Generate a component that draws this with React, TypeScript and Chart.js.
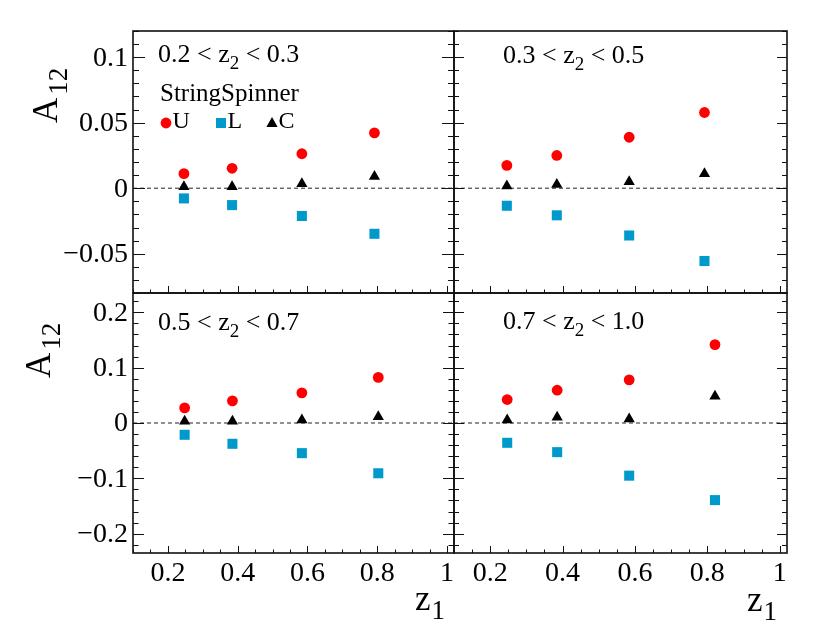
import React, { useEffect, useRef } from 'react';
import { Chart, registerables } from 'chart.js';

Chart.register(...registerables);

// mean z1 of each bin, per z2 bin
const z1Bin1 = [0.246, 0.384, 0.584, 0.792];
const z1Bin2 = [0.246, 0.384, 0.584, 0.792];
const z1Bin3 = [0.248, 0.385, 0.584, 0.803];
const z1Bin4 = [0.247, 0.385, 0.584, 0.821];

// A12 for U, L and C
const uBin1 = [0.0111, 0.0152, 0.0263, 0.0422];
const lBin1 = [-0.0078, -0.0129, -0.0212, -0.0348];
const cBin1 = [0.0012, 0.0012, 0.0034, 0.009];

const uBin2 = [0.0174, 0.025, 0.0389, 0.0578];
const lBin2 = [-0.0134, -0.0207, -0.0361, -0.0556];
const cBin2 = [0.0017, 0.0029, 0.0049, 0.011];

const uBin3 = [0.0273, 0.04, 0.0545, 0.0824];
const lBin3 = [-0.0213, -0.0376, -0.0545, -0.0909];
const cBin3 = [0.003, 0.003, 0.0054, 0.0115];

const uBin4 = [0.0424, 0.0593, 0.078, 0.1418];
const lBin4 = [-0.0358, -0.0527, -0.0952, -0.1394];
const cBin4 = [0.0054, 0.0103, 0.0073, 0.0485];

const z2Low = ['0.2', '0.3', '0.5', '0.7'];
const z2High = ['0.3', '0.5', '0.7', '1.0'];

const seriesNames = ['U', 'L', 'C'];
const legendTitle = 'StringSpinner';

const xTickValues = [0.2, 0.4, 0.6, 0.8, 1];
const xTickText = ['0.2', '0.4', '0.6', '0.8', '1'];
const yTickValuesTop = [-0.05, 0, 0.05, 0.1];
const yTickTextTop = ['\u22120.05', '0', '0.05', '0.1'];
const yTickValuesBottom = [-0.2, -0.1, 0, 0.1, 0.2];
const yTickTextBottom = ['\u22120.2', '\u22120.1', '0', '0.1', '0.2'];

const FONT = '"Liberation Serif", "DejaVu Serif", serif';
const RED = '#ff0000';
const BLUE = '#0099cc';
const BLACK = '#000000';

interface PanelSpec {
  z1: number[];
  u: number[];
  l: number[];
  c: number[];
  lo: string;
  hi: string;
  frame: { left: number; top: number; right: number; bottom: number };
  yMin: number;
  yMax: number;
  yMajor: number;
  yMinor: number;
  yTicks: number[];
  yText: string[];
  showY: boolean;
  showX: boolean;
  yTickLen: number;
  label: { x: number; y: number };
  yTitle?: { x: number; y: number };
  xTitle?: { x: number; y: number };
  legend?: boolean;
}

const top = { yMin: -0.08, yMax: 0.12, yMajor: 0.05, yMinor: 0.01, yTicks: yTickValuesTop, yText: yTickTextTop };
const bottom = { yMin: -0.235, yMax: 0.235, yMajor: 0.1, yMinor: 0.02, yTicks: yTickValuesBottom, yText: yTickTextBottom };

const panels: PanelSpec[] = [
  {
    z1: z1Bin1, u: uBin1, l: lBin1, c: cBin1, lo: z2Low[0], hi: z2High[0],
    frame: { left: 133, top: 31, right: 454, bottom: 293 }, ...top,
    showY: true, showX: false, yTickLen: 12,
    label: { x: 158, y: 62 }, yTitle: { x: 57, y: 123 }, legend: true,
  },
  {
    z1: z1Bin2, u: uBin2, l: lBin2, c: cBin2, lo: z2Low[1], hi: z2High[1],
    frame: { left: 454, top: 31, right: 787, bottom: 293 }, ...top,
    showY: false, showX: false, yTickLen: 10,
    label: { x: 503, y: 63 },
  },
  {
    z1: z1Bin3, u: uBin3, l: lBin3, c: cBin3, lo: z2Low[2], hi: z2High[2],
    frame: { left: 133, top: 293, right: 454, bottom: 553 }, ...bottom,
    showY: true, showX: true, yTickLen: 11,
    label: { x: 158, y: 330 }, yTitle: { x: 50, y: 378 }, xTitle: { x: 415, y: 610 },
  },
  {
    z1: z1Bin4, u: uBin4, l: lBin4, c: cBin4, lo: z2Low[3], hi: z2High[3],
    frame: { left: 454, top: 293, right: 787, bottom: 553 }, ...bottom,
    showY: false, showX: true, yTickLen: 10,
    label: { x: 503, y: 329 }, xTitle: { x: 747, y: 611 },
  },
];

function drawMarker(ctx: CanvasRenderingContext2D, style: string, x: number, y: number, color: string) {
  ctx.fillStyle = color;
  ctx.beginPath();
  if (style === 'circle') {
    ctx.arc(x, y, 5.4, 0, Math.PI * 2);
  } else if (style === 'rect') {
    ctx.rect(x - 5, y - 5, 10, 10);
  } else {
    ctx.moveTo(x, y - 6);
    ctx.lineTo(x + 5.6, y + 4);
    ctx.lineTo(x - 5.6, y + 4);
    ctx.closePath();
  }
  ctx.fill();
}

const makePlugin = (p: PanelSpec) => ({
  id: 'rootFrame',
  beforeDatasetsDraw(chart: Chart) {
    const { ctx, chartArea: a } = chart;
    const y0 = chart.scales.y.getPixelForValue(0);
    ctx.save();
    ctx.strokeStyle = '#222';
    ctx.lineWidth = 1;
    ctx.setLineDash([4, 3]);
    ctx.beginPath();
    ctx.moveTo(a.left, y0);
    ctx.lineTo(a.right, y0);
    ctx.stroke();
    ctx.restore();
  },
  afterDatasetsDraw(chart: Chart) {
    const { ctx, chartArea: a } = chart;
    const xs = chart.scales.x;
    const ys = chart.scales.y;
    ctx.save();
    ctx.strokeStyle = '#111';
    ctx.lineWidth = 1.6;
    ctx.strokeRect(a.left, a.top, a.right - a.left, a.bottom - a.top);

    // y ticks on left and right edges
    ctx.lineWidth = 1;
    const k0 = Math.ceil(p.yMin / p.yMinor - 1e-6);
    const k1 = Math.floor(p.yMax / p.yMinor + 1e-6);
    for (let k = k0; k <= k1; k++) {
      const v = k * p.yMinor;
      const r = v / p.yMajor;
      const major = Math.abs(r - Math.round(r)) < 1e-6;
      const len = major ? p.yTickLen : p.yTickLen / 2;
      const py = Math.round(ys.getPixelForValue(v)) + 0.5;
      ctx.beginPath();
      ctx.moveTo(a.left, py);
      ctx.lineTo(a.left + len, py);
      ctx.moveTo(a.right, py);
      ctx.lineTo(a.right - len, py);
      ctx.stroke();
    }
    // x ticks on bottom edge
    for (let k = Math.ceil(0.1 / 0.05 - 1e-6); k <= Math.floor(1.02 / 0.05 + 1e-6); k++) {
      const v = k * 0.05;
      const major = k % 4 === 0;
      const len = major ? 7 : 3.5;
      const px = Math.round(xs.getPixelForValue(v)) + 0.5;
      ctx.beginPath();
      ctx.moveTo(px, a.bottom);
      ctx.lineTo(px, a.bottom - len);
      ctx.stroke();
    }

    ctx.fillStyle = '#000';
    ctx.font = `28px ${FONT}`;
    if (p.showY) {
      ctx.textAlign = 'right';
      ctx.textBaseline = 'middle';
      p.yTicks.forEach((v, i) => ctx.fillText(p.yText[i], a.left - 5, ys.getPixelForValue(v) + 1));
    }
    if (p.showX) {
      ctx.textAlign = 'center';
      ctx.textBaseline = 'alphabetic';
      xTickValues.forEach((v, i) => ctx.fillText(xTickText[i], xs.getPixelForValue(v), a.bottom + 28));
    }

    // z2 bin label
    ctx.textAlign = 'left';
    ctx.textBaseline = 'alphabetic';
    ctx.font = `26px ${FONT}`;
    let tx = p.label.x;
    const part1 = `${p.lo} < z`;
    ctx.fillText(part1, tx, p.label.y);
    tx += ctx.measureText(part1).width;
    ctx.font = `19px ${FONT}`;
    ctx.fillText('2', tx, p.label.y + 7);
    tx += ctx.measureText('2').width;
    ctx.font = `26px ${FONT}`;
    ctx.fillText(` < ${p.hi}`, tx, p.label.y);

    if (p.yTitle) {
      ctx.save();
      ctx.translate(p.yTitle.x, p.yTitle.y);
      ctx.rotate(-Math.PI / 2);
      ctx.font = `35px ${FONT}`;
      ctx.fillText('A', 0, 0);
      const w = ctx.measureText('A').width;
      ctx.font = `27px ${FONT}`;
      ctx.fillText('12', w + 3, 10);
      ctx.restore();
    }
    if (p.xTitle) {
      ctx.font = `35px ${FONT}`;
      ctx.fillText('z', p.xTitle.x, p.xTitle.y);
      const w = ctx.measureText('z').width;
      ctx.font = `27px ${FONT}`;
      ctx.fillText('1', p.xTitle.x + w + 1, p.xTitle.y + 9);
    }

    if (p.legend) {
      ctx.font = `25px ${FONT}`;
      ctx.fillText(legendTitle, 160, 101);
      const styles = ['circle', 'rect', 'triangle'];
      const colors = [RED, BLUE, BLACK];
      const xs0 = [166, 221, 272];
      ctx.font = `24px ${FONT}`;
      seriesNames.forEach((name, i) => {
        drawMarker(ctx, styles[i], xs0[i], 123, colors[i]);
        ctx.fillStyle = '#000';
        ctx.fillText(name, xs0[i] + 6.5, 128);
      });
    }
    ctx.restore();
  },
});

const Panel: React.FC<{ spec: PanelSpec }> = ({ spec }) => {
  const chartRef = useRef<HTMLCanvasElement>(null);

  useEffect(() => {
    let chartInstance: Chart | undefined;
    let cancelled = false;
    const build = () => {
      const ctx = chartRef.current?.getContext('2d');
      if (!ctx || cancelled) return;
      const pts = (vals: number[]) => vals.map((v, i) => ({ x: spec.z1[i], y: v }));
      chartInstance = new Chart(ctx, {
        type: 'scatter',
        data: {
          datasets: [
            { label: seriesNames[0], data: pts(spec.u), pointStyle: 'circle', pointRadius: 5.4, backgroundColor: RED, borderColor: RED, borderWidth: 0 },
            { label: seriesNames[1], data: pts(spec.l), pointStyle: 'rect', pointRadius: 7.1, backgroundColor: BLUE, borderColor: BLUE, borderWidth: 0 },
            { label: seriesNames[2], data: pts(spec.c), pointStyle: 'triangle', pointRadius: 6.5, backgroundColor: BLACK, borderColor: BLACK, borderWidth: 0 },
          ],
        },
        options: {
          responsive: false,
          animation: false,
          devicePixelRatio: 1,
          layout: {
            padding: {
              left: spec.frame.left,
              top: spec.frame.top,
              right: 830 - spec.frame.right,
              bottom: 627 - spec.frame.bottom,
            },
          },
          plugins: {
            legend: { display: false },
            tooltip: { enabled: false },
          },
          scales: {
            x: { type: 'linear', min: 0.1, max: 1.02, display: false },
            y: { type: 'linear', min: spec.yMin, max: spec.yMax, display: false },
          },
        },
        plugins: [makePlugin(spec)],
      });
    };
    const fonts = (document as any).fonts;
    if (fonts && fonts.load) {
      Promise.all([fonts.load(`28px ${FONT}`), fonts.load(`35px ${FONT}`)]).then(build, build);
    } else {
      build();
    }
    return () => {
      cancelled = true;
      if (chartInstance) {
        chartInstance.destroy();
      }
    };
  }, [spec]);

  return (
    <canvas
      ref={chartRef}
      width={830}
      height={627}
      style={{ position: 'absolute', left: 0, top: 0, width: 830, height: 627 }}
    />
  );
};

const App: React.FC = () => (
  <div style={{ position: 'fixed', left: 0, top: 0, width: 830, height: 627, background: '#fff', fontFamily: FONT }}>
    <span style={{ position: 'absolute', left: 0, top: 0, opacity: 0, fontFamily: FONT }}>0.1 StringSpinner</span>
    {panels.map((p, i) => (
      <Panel key={i} spec={p} />
    ))}
  </div>
);

export default App;
